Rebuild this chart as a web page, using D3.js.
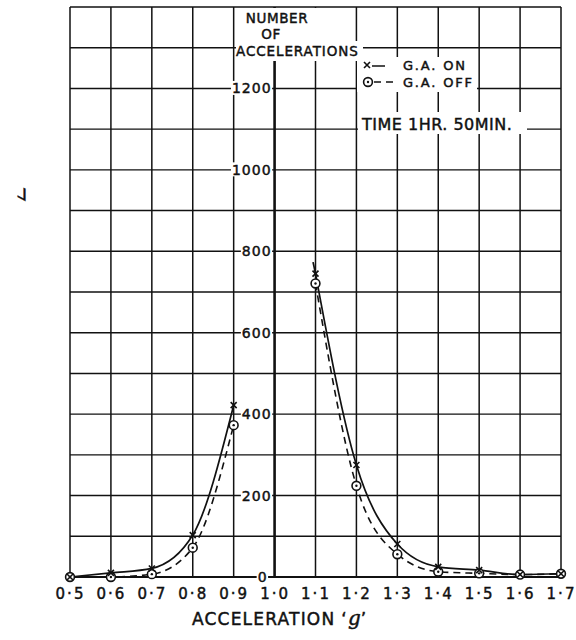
<!DOCTYPE html>
<html>
<head>
<meta charset="utf-8">
<script src="https://cdn.jsdelivr.net/npm/d3@7"></script>
<style>
  html, body { margin: 0; padding: 0; background: #fff; }
  svg { display: block; }
  text { font-family: "DejaVu Sans", sans-serif; fill: #111; stroke: #111; stroke-width: 0.45px; }
</style>
</head>
<body>
<svg id="chart" width="576" height="640"></svg>
<script>
// ---- data ----
const gValues   = [0.5, 0.6, 0.7, 0.8, 0.9, 1.1, 1.2, 1.3, 1.4, 1.5, 1.6, 1.7];
const gaOn      = [0,   10,  21,  103, 422, 745, 275, 81,  25,  17,  6,   8];
const gaOff     = [0,   0,   7,   72,  373, 721, 224, 56,  13,  9,   6,   8];
const xTicks    = [0.5, 0.6, 0.7, 0.8, 0.9, 1.0, 1.1, 1.2, 1.3, 1.4, 1.5, 1.6, 1.7];
const xTickLabels = ["0·5","0·6","0·7","0·8","0·9","1·0","1·1","1·2","1·3","1·4","1·5","1·6","1·7"];
const yGrid     = [0,100,200,300,400,500,600,700,800,900,1000,1100,1200,1300,1400];
const yTicks    = [0, 200, 400, 600, 800, 1000, 1200];
const yTickLabels = ["0","200","400","600","800","1000","1200"];
const titleLines = ["NUMBER", "OF", "ACCELERATIONS"];
const legendLabels = ["G.A. ON", "G.A. OFF"];
const noteText = "TIME 1HR. 50MIN.";
const xTitle = "ACCELERATION";

const svg = d3.select("#chart");
svg.append("rect").attr("width", 576).attr("height", 640).attr("fill", "#fff");

const x = d3.scaleLinear().domain([0.5, 1.7]).range([70, 561]);
const y = d3.scaleLinear().domain([0, 1400]).range([577, 7]);
const ink = "#111";

// ---- grid ----
const grid = svg.append("g");
grid.selectAll("line.v").data(xTicks).join("line")
  .attr("x1", d => x(d)).attr("x2", d => x(d))
  .attr("y1", y(0)).attr("y2", y(1400))
  .attr("stroke", ink)
  .attr("stroke-width", d => d === 1.0 ? 2.6 : 1.5);
grid.selectAll("line.h").data(yGrid).join("line")
  .attr("x1", x(0.5)).attr("x2", x(1.7))
  .attr("y1", d => y(d)).attr("y2", d => y(d))
  .attr("stroke", ink)
  .attr("stroke-width", d => d === 0 ? 2 : 1.4);

// white masks behind texts
const bg = svg.append("g");
const fg = svg.append("g");

// ---- y axis labels ----
const yAxis = d3.axisLeft(y).tickValues(yTicks).tickSize(0).tickPadding(2)
  .tickFormat((d, i) => yTickLabels[i]);
const yg = fg.append("g").attr("transform", `translate(${x(1.0) - 1},0)`).call(yAxis);
yg.select(".domain").remove();
yg.selectAll("text")
  .attr("font-size", 14).attr("letter-spacing", 1)
  .attr("font-family", "DejaVu Sans").attr("fill", ink)
  .attr("dx", d => d === 0 ? -4 : 0);
yg.selectAll(".tick").each(function(d) {
  const t = d3.select(this).select("text").node();
  const b = t.getBBox();
  const ty = y(d);
  bg.append("rect")
    .attr("x", x(1.0) - 1 + b.x - 1).attr("y", ty + b.y + 1)
    .attr("width", b.width + 1.5).attr("height", b.height - 2)
    .attr("fill", "#fff");
});

// ---- x axis labels ----
const xAxis = d3.axisBottom(x).tickValues(xTicks).tickSize(0).tickPadding(11)
  .tickFormat((d, i) => xTickLabels[i]);
const xg = fg.append("g").attr("transform", `translate(0,${y(0)})`).call(xAxis);
xg.select(".domain").remove();
xg.selectAll("text").attr("font-size", 15).attr("letter-spacing", 2)
  .attr("font-family", "DejaVu Sans").attr("fill", ink);

// axis title
const xt = fg.append("text").attr("x", 192).attr("y", 625)
  .attr("font-size", 17).attr("letter-spacing", 1.2);
xt.append("tspan").text(xTitle);
xt.append("tspan").attr("dx", 6).text("‘");
xt.append("tspan").attr("font-family", "DejaVu Serif").attr("font-style", "italic")
  .attr("font-size", 20).attr("letter-spacing", 0).text("g");
xt.append("tspan").text("’");

// ---- title block ----
bg.append("rect").attr("x", 236).attr("y", 8).attr("width", 114).attr("height", 53).attr("fill", "#fff");
bg.append("rect").attr("x", 236).attr("y", 41).attr("width", 127).attr("height", 20).attr("fill", "#fff");
fg.append("text").attr("x", 277).attr("y", 23).attr("text-anchor", "middle")
  .attr("font-size", 13.5).attr("letter-spacing", 0.6).text(titleLines[0]);
fg.append("text").attr("x", 271).attr("y", 39).attr("text-anchor", "middle")
  .attr("font-size", 13.5).attr("letter-spacing", 0.6).text(titleLines[1]);
fg.append("text").attr("x", 236).attr("y", 56)
  .attr("font-size", 13.5).attr("letter-spacing", 0.9).text(titleLines[2]);

// ---- legend ----
bg.append("rect").attr("x", 357).attr("y", 57).attr("width", 120).attr("height", 35).attr("fill", "#fff");
const leg = fg.append("g");
function xMark(g, cx, cy, s) {
  g.append("path")
    .attr("d", `M${cx - s},${cy - s}L${cx + s},${cy + s}M${cx - s},${cy + s}L${cx + s},${cy - s}`)
    .attr("stroke", ink).attr("stroke-width", 1.6).attr("fill", "none");
}
function oMark(g, cx, cy) {
  g.append("circle").attr("cx", cx).attr("cy", cy).attr("r", 4.4)
    .attr("fill", "#fff").attr("stroke", ink).attr("stroke-width", 1.6);
  g.append("circle").attr("cx", cx).attr("cy", cy).attr("r", 1.2).attr("fill", ink);
}
xMark(leg, 367, 65, 3);
leg.append("line").attr("x1", 372).attr("x2", 385).attr("y1", 66).attr("y2", 66)
  .attr("stroke", ink).attr("stroke-width", 1.5);
leg.append("text").attr("x", 403).attr("y", 70).attr("font-size", 13)
  .attr("letter-spacing", 1.8).text(legendLabels[0]);
oMark(leg, 368, 82);
leg.append("line").attr("x1", 374).attr("x2", 395).attr("y1", 82).attr("y2", 82)
  .attr("stroke", ink).attr("stroke-width", 1.5).attr("stroke-dasharray", "7,5");
leg.append("text").attr("x", 403).attr("y", 87).attr("font-size", 13)
  .attr("letter-spacing", 1.8).text(legendLabels[1]);

// note
bg.append("rect").attr("x", 358).attr("y", 112).attr("width", 169).attr("height", 22).attr("fill", "#fff");
fg.append("text").attr("x", 362).attr("y", 130).attr("font-size", 16)
  .attr("letter-spacing", 0.5).text(noteText);

// stray letter at left margin
fg.append("text").attr("transform", "translate(27,202) skewY(28) scale(-1,1)")
  .attr("font-size", 17).text("L");

// ---- data curves ----
const on = gValues.map((g, i) => ({ g, v: gaOn[i] }));
const off = gValues.map((g, i) => ({ g, v: gaOff[i] }));
const line = d3.line().x(d => x(d.g)).y(d => y(d.v)).curve(d3.curveMonotoneX);
const data = svg.append("g");
const segs = [d => d.g < 1.0, d => d.g > 1.0];
segs.forEach(f => {
  data.append("path").attr("d", line(on.filter(f)))
    .attr("fill", "none").attr("stroke", ink).attr("stroke-width", 1.7);
  data.append("path").attr("d", line(off.filter(f)))
    .attr("fill", "none").attr("stroke", ink).attr("stroke-width", 1.6)
    .attr("stroke-dasharray", "7,5");
});
// the drawn curve for G.A. ON runs slightly past its first right-hand point
const r0 = on.find(d => d.g > 1.0), r1 = on.filter(d => d.g > 1.0)[1];
const lead = 0.006;
const ext = { g: r0.g - lead, v: r0.v + (r0.v - r1.v) / (r1.g - r0.g) * lead };
data.append("path").attr("d", d3.line().x(d => x(d.g)).y(d => y(d.v))([ext, r0]))
  .attr("fill", "none").attr("stroke", ink).attr("stroke-width", 1.7);

// markers
off.forEach(d => oMark(data, x(d.g), y(d.v)));
on.forEach(d => xMark(data, x(d.g), y(d.v), 3));
</script>
</body>
</html>
